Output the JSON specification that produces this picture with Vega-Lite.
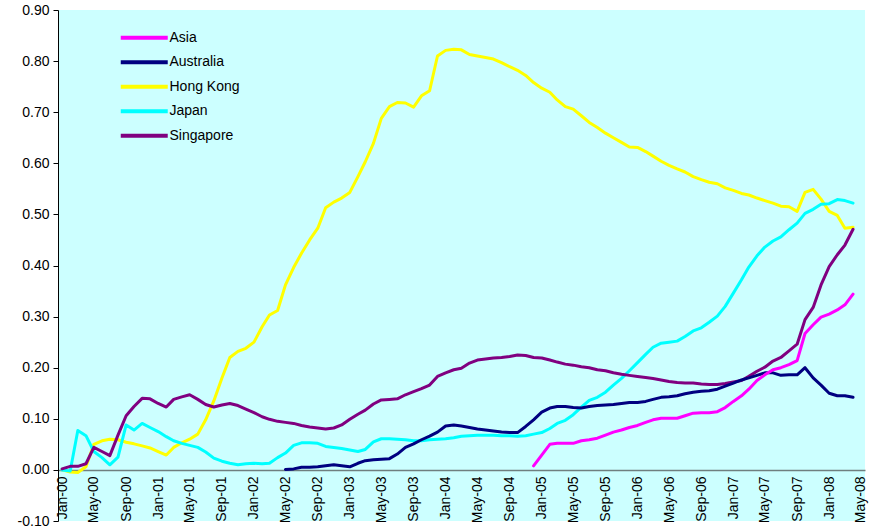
{
  "$schema": "https://vega.github.io/schema/vega-lite/v6.json",
  "width": 807,
  "height": 511,
  "autosize": {"type": "none"},
  "padding": {"left": 58, "top": 10, "right": 14, "bottom": 9},
  "background": "#ffffff",
  "view": {"fill": "#CCFFFF", "stroke": null},
  "data": {"values": [
    {"d":"2000-01","Hong Kong":0.000,"Japan":0.000,"Singapore":0.002},
    {"d":"2000-02","Hong Kong":-0.004,"Japan":-0.002,"Singapore":0.007},
    {"d":"2000-03","Hong Kong":-0.005,"Japan":0.077,"Singapore":0.007},
    {"d":"2000-04","Hong Kong":0.006,"Japan":0.067,"Singapore":0.012},
    {"d":"2000-05","Hong Kong":0.050,"Japan":0.036,"Singapore":0.044},
    {"d":"2000-06","Hong Kong":0.057,"Japan":0.024,"Singapore":0.036},
    {"d":"2000-07","Hong Kong":0.060,"Japan":0.010,"Singapore":0.028},
    {"d":"2000-08","Hong Kong":0.059,"Japan":0.025,"Singapore":0.068},
    {"d":"2000-09","Hong Kong":0.054,"Japan":0.088,"Singapore":0.106},
    {"d":"2000-10","Hong Kong":0.051,"Japan":0.078,"Singapore":0.124},
    {"d":"2000-11","Hong Kong":0.047,"Japan":0.091,"Singapore":0.140},
    {"d":"2000-12","Hong Kong":0.043,"Japan":0.083,"Singapore":0.139},
    {"d":"2001-01","Hong Kong":0.036,"Japan":0.075,"Singapore":0.130},
    {"d":"2001-02","Hong Kong":0.029,"Japan":0.065,"Singapore":0.123},
    {"d":"2001-03","Hong Kong":0.044,"Japan":0.057,"Singapore":0.138},
    {"d":"2001-04","Hong Kong":0.053,"Japan":0.052,"Singapore":0.143},
    {"d":"2001-05","Hong Kong":0.060,"Japan":0.048,"Singapore":0.147},
    {"d":"2001-06","Hong Kong":0.070,"Japan":0.044,"Singapore":0.138},
    {"d":"2001-07","Hong Kong":0.098,"Japan":0.035,"Singapore":0.128},
    {"d":"2001-08","Hong Kong":0.135,"Japan":0.023,"Singapore":0.123},
    {"d":"2001-09","Hong Kong":0.180,"Japan":0.017,"Singapore":0.127},
    {"d":"2001-10","Hong Kong":0.220,"Japan":0.013,"Singapore":0.130},
    {"d":"2001-11","Hong Kong":0.232,"Japan":0.010,"Singapore":0.126},
    {"d":"2001-12","Hong Kong":0.238,"Japan":0.012,"Singapore":0.119},
    {"d":"2002-01","Hong Kong":0.250,"Japan":0.013,"Singapore":0.112},
    {"d":"2002-02","Hong Kong":0.280,"Japan":0.012,"Singapore":0.104},
    {"d":"2002-03","Hong Kong":0.303,"Japan":0.013,"Singapore":0.099},
    {"d":"2002-04","Hong Kong":0.312,"Japan":0.024,"Singapore":0.095},
    {"d":"2002-05","Australia":0.001,"Hong Kong":0.362,"Japan":0.033,"Singapore":0.093},
    {"d":"2002-06","Australia":0.002,"Hong Kong":0.396,"Japan":0.048,"Singapore":0.091},
    {"d":"2002-07","Australia":0.005,"Hong Kong":0.424,"Japan":0.053,"Singapore":0.087},
    {"d":"2002-08","Australia":0.005,"Hong Kong":0.450,"Japan":0.053,"Singapore":0.084},
    {"d":"2002-09","Australia":0.006,"Hong Kong":0.473,"Japan":0.052,"Singapore":0.082},
    {"d":"2002-10","Australia":0.008,"Hong Kong":0.513,"Japan":0.046,"Singapore":0.080},
    {"d":"2002-11","Australia":0.010,"Hong Kong":0.524,"Japan":0.044,"Singapore":0.082},
    {"d":"2002-12","Australia":0.008,"Hong Kong":0.532,"Japan":0.042,"Singapore":0.088},
    {"d":"2003-01","Australia":0.006,"Hong Kong":0.543,"Japan":0.039,"Singapore":0.099},
    {"d":"2003-02","Australia":0.013,"Hong Kong":0.574,"Japan":0.036,"Singapore":0.109},
    {"d":"2003-03","Australia":0.018,"Hong Kong":0.603,"Japan":0.040,"Singapore":0.117},
    {"d":"2003-04","Australia":0.020,"Hong Kong":0.639,"Japan":0.055,"Singapore":0.129},
    {"d":"2003-05","Australia":0.021,"Hong Kong":0.688,"Japan":0.061,"Singapore":0.137},
    {"d":"2003-06","Australia":0.022,"Hong Kong":0.711,"Japan":0.061,"Singapore":0.138},
    {"d":"2003-07","Australia":0.031,"Hong Kong":0.719,"Japan":0.060,"Singapore":0.139},
    {"d":"2003-08","Australia":0.044,"Hong Kong":0.718,"Japan":0.059,"Singapore":0.147},
    {"d":"2003-09","Australia":0.051,"Hong Kong":0.710,"Japan":0.057,"Singapore":0.153},
    {"d":"2003-10","Australia":0.059,"Hong Kong":0.732,"Japan":0.057,"Singapore":0.159},
    {"d":"2003-11","Australia":0.066,"Hong Kong":0.742,"Japan":0.059,"Singapore":0.166},
    {"d":"2003-12","Australia":0.074,"Hong Kong":0.810,"Japan":0.060,"Singapore":0.183},
    {"d":"2004-01","Australia":0.086,"Hong Kong":0.821,"Japan":0.061,"Singapore":0.190},
    {"d":"2004-02","Australia":0.088,"Hong Kong":0.823,"Japan":0.063,"Singapore":0.196},
    {"d":"2004-03","Australia":0.086,"Hong Kong":0.822,"Japan":0.066,"Singapore":0.199},
    {"d":"2004-04","Australia":0.083,"Hong Kong":0.813,"Japan":0.067,"Singapore":0.209},
    {"d":"2004-05","Australia":0.080,"Hong Kong":0.810,"Japan":0.068,"Singapore":0.215},
    {"d":"2004-06","Australia":0.078,"Hong Kong":0.807,"Japan":0.068,"Singapore":0.217},
    {"d":"2004-07","Australia":0.076,"Hong Kong":0.804,"Japan":0.068,"Singapore":0.219},
    {"d":"2004-08","Australia":0.074,"Hong Kong":0.797,"Japan":0.067,"Singapore":0.220},
    {"d":"2004-09","Australia":0.073,"Hong Kong":0.789,"Japan":0.067,"Singapore":0.222},
    {"d":"2004-10","Australia":0.073,"Hong Kong":0.782,"Japan":0.066,"Singapore":0.225},
    {"d":"2004-11","Australia":0.085,"Hong Kong":0.772,"Japan":0.067,"Singapore":0.224},
    {"d":"2004-12","Asia":0.008,"Australia":0.098,"Hong Kong":0.758,"Japan":0.070,"Singapore":0.220},
    {"d":"2005-01","Asia":0.029,"Australia":0.113,"Hong Kong":0.747,"Japan":0.073,"Singapore":0.219},
    {"d":"2005-02","Asia":0.050,"Australia":0.121,"Hong Kong":0.739,"Japan":0.081,"Singapore":0.215},
    {"d":"2005-03","Asia":0.052,"Australia":0.124,"Hong Kong":0.724,"Japan":0.091,"Singapore":0.211},
    {"d":"2005-04","Asia":0.052,"Australia":0.124,"Hong Kong":0.711,"Japan":0.097,"Singapore":0.207},
    {"d":"2005-05","Asia":0.052,"Australia":0.122,"Hong Kong":0.706,"Japan":0.108,"Singapore":0.205},
    {"d":"2005-06","Asia":0.057,"Australia":0.121,"Hong Kong":0.693,"Japan":0.123,"Singapore":0.202},
    {"d":"2005-07","Asia":0.059,"Australia":0.124,"Hong Kong":0.680,"Japan":0.136,"Singapore":0.200},
    {"d":"2005-08","Asia":0.062,"Australia":0.126,"Hong Kong":0.670,"Japan":0.142,"Singapore":0.196},
    {"d":"2005-09","Asia":0.068,"Australia":0.127,"Hong Kong":0.659,"Japan":0.152,"Singapore":0.194},
    {"d":"2005-10","Asia":0.074,"Australia":0.128,"Hong Kong":0.650,"Japan":0.166,"Singapore":0.190},
    {"d":"2005-11","Asia":0.078,"Australia":0.130,"Hong Kong":0.641,"Japan":0.179,"Singapore":0.187},
    {"d":"2005-12","Asia":0.083,"Australia":0.132,"Hong Kong":0.632,"Japan":0.194,"Singapore":0.185},
    {"d":"2006-01","Asia":0.087,"Australia":0.132,"Hong Kong":0.631,"Japan":0.210,"Singapore":0.183},
    {"d":"2006-02","Asia":0.093,"Australia":0.134,"Hong Kong":0.623,"Japan":0.226,"Singapore":0.181},
    {"d":"2006-03","Asia":0.098,"Australia":0.138,"Hong Kong":0.614,"Japan":0.240,"Singapore":0.179},
    {"d":"2006-04","Asia":0.101,"Australia":0.142,"Hong Kong":0.604,"Japan":0.248,"Singapore":0.176},
    {"d":"2006-05","Asia":0.101,"Australia":0.143,"Hong Kong":0.596,"Japan":0.250,"Singapore":0.173},
    {"d":"2006-06","Asia":0.101,"Australia":0.145,"Hong Kong":0.589,"Japan":0.252,"Singapore":0.171},
    {"d":"2006-07","Asia":0.106,"Australia":0.149,"Hong Kong":0.583,"Japan":0.261,"Singapore":0.170},
    {"d":"2006-08","Asia":0.111,"Australia":0.152,"Hong Kong":0.574,"Japan":0.272,"Singapore":0.170},
    {"d":"2006-09","Asia":0.112,"Australia":0.154,"Hong Kong":0.568,"Japan":0.278,"Singapore":0.168},
    {"d":"2006-10","Asia":0.112,"Australia":0.155,"Hong Kong":0.563,"Japan":0.289,"Singapore":0.167},
    {"d":"2006-11","Asia":0.114,"Australia":0.158,"Hong Kong":0.560,"Japan":0.301,"Singapore":0.167},
    {"d":"2006-12","Asia":0.122,"Australia":0.164,"Hong Kong":0.552,"Japan":0.320,"Singapore":0.169},
    {"d":"2007-01","Asia":0.134,"Australia":0.170,"Hong Kong":0.547,"Japan":0.346,"Singapore":0.172},
    {"d":"2007-02","Asia":0.145,"Australia":0.176,"Hong Kong":0.541,"Japan":0.372,"Singapore":0.175},
    {"d":"2007-03","Asia":0.158,"Australia":0.180,"Hong Kong":0.538,"Japan":0.397,"Singapore":0.183},
    {"d":"2007-04","Asia":0.175,"Australia":0.185,"Hong Kong":0.532,"Japan":0.419,"Singapore":0.193},
    {"d":"2007-05","Asia":0.186,"Australia":0.190,"Hong Kong":0.527,"Japan":0.436,"Singapore":0.201},
    {"d":"2007-06","Asia":0.196,"Australia":0.190,"Hong Kong":0.522,"Japan":0.448,"Singapore":0.213},
    {"d":"2007-07","Asia":0.200,"Australia":0.185,"Hong Kong":0.516,"Japan":0.456,"Singapore":0.220},
    {"d":"2007-08","Asia":0.206,"Australia":0.186,"Hong Kong":0.515,"Japan":0.470,"Singapore":0.233},
    {"d":"2007-09","Asia":0.214,"Australia":0.186,"Hong Kong":0.506,"Japan":0.483,"Singapore":0.246},
    {"d":"2007-10","Asia":0.267,"Australia":0.200,"Hong Kong":0.543,"Japan":0.502,"Singapore":0.294},
    {"d":"2007-11","Asia":0.284,"Australia":0.180,"Hong Kong":0.549,"Japan":0.510,"Singapore":0.318},
    {"d":"2007-12","Asia":0.299,"Australia":0.166,"Hong Kong":0.530,"Japan":0.520,"Singapore":0.362},
    {"d":"2008-01","Asia":0.305,"Australia":0.150,"Hong Kong":0.506,"Japan":0.521,"Singapore":0.398},
    {"d":"2008-02","Asia":0.313,"Australia":0.145,"Hong Kong":0.498,"Japan":0.529,"Singapore":0.421},
    {"d":"2008-03","Asia":0.323,"Australia":0.145,"Hong Kong":0.473,"Japan":0.527,"Singapore":0.440},
    {"d":"2008-04","Asia":0.344,"Australia":0.142,"Hong Kong":0.475,"Japan":0.522,"Singapore":0.471}
  ]},
  "transform": [
    {"fold": ["Asia", "Australia", "Hong Kong", "Japan", "Singapore"], "as": ["s", "v"]},
    {"filter": "isValid(datum.v)"}
  ],
  "mark": {"type": "line", "strokeWidth": 3, "strokeJoin": "round", "strokeCap": "round"},
  "encoding": {
    "x": {
      "field": "d",
      "type": "temporal",
      "scale": {
        "type": "utc",
        "domain": [
          {"year": 1999, "month": 12, "date": 16, "hours": 12, "utc": true},
          {"year": 2008, "month": 5, "date": 16, "hours": 12, "utc": true}
        ]
      },
      "axis": {
        "title": null,
        "orient": "bottom",
        "offset": -51,
        "grid": false,
        "ticks": false,
        "domainColor": "#6f7f7f",
        "domainWidth": 1.5,
        "tickCount": {"interval": "month", "step": 4},
        "format": "%b-%y",
        "labelAngle": 270,
        "labelAlign": "right",
        "labelBaseline": "middle",
        "labelPadding": 6,
        "labelFlush": false,
        "labelOverlap": false,
        "labelFont": "Liberation Sans",
        "labelFontSize": 14,
        "labelColor": "#000000"
      }
    },
    "y": {
      "field": "v",
      "type": "quantitative",
      "scale": {"domain": [-0.1, 0.9], "nice": false, "zero": false},
      "axis": {
        "title": null,
        "grid": false,
        "values": [-0.1, 0, 0.1, 0.2, 0.3, 0.4, 0.5, 0.6, 0.7, 0.8, 0.9],
        "format": ".2f",
        "labelExpr": "replace(datum.label, '\u2212', '-')",
        "domainColor": "#000000",
        "domainWidth": 1,
        "tickColor": "#000000",
        "tickSize": 5,
        "labelPadding": 4,
        "labelFont": "Liberation Sans",
        "labelFontSize": 14,
        "labelColor": "#000000"
      }
    },
    "color": {
      "field": "s",
      "type": "nominal",
      "scale": {
        "domain": ["Asia", "Australia", "Hong Kong", "Japan", "Singapore"],
        "range": ["#FF00FF", "#000080", "#FFFF00", "#00FFFF", "#800080"]
      },
      "legend": {
        "title": null,
        "orient": "none",
        "legendX": 72.25,
        "legendY": 13.7,
        "padding": 0,
        "symbolType": "M-2,0H2",
        "symbolSize": 552,
        "symbolStrokeWidth": 4,
        "labelOffset": 11.25,
        "labelFont": "Liberation Sans",
        "labelFontSize": 14,
        "labelColor": "#000000",
        "rowPadding": 2.5
      }
    }
  }
}
